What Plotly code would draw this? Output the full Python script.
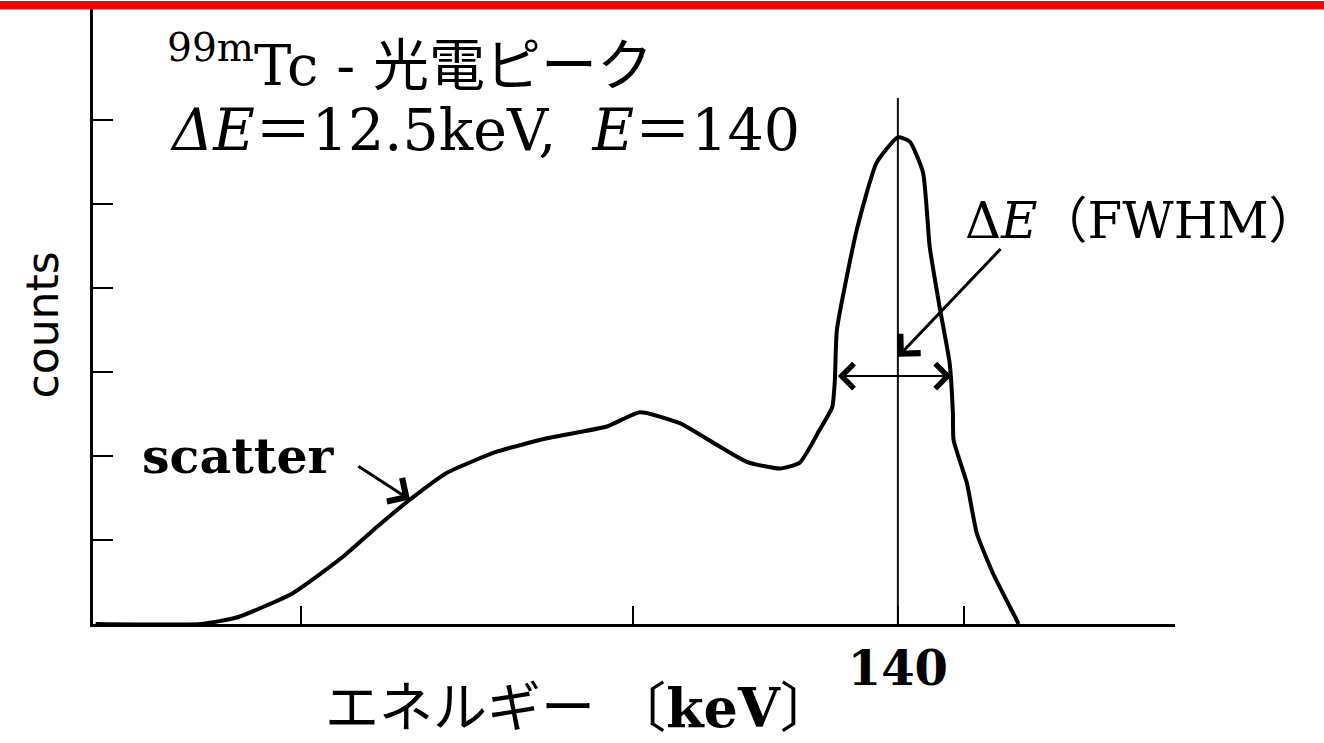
import plotly.graph_objects as go

# Energy spectrum of the 99mTc photopeak (energy in keV, counts in arbitrary units)
energy_kev = [19.0, 34.8, 40.4, 48.8, 56.3, 61.5, 66.4, 72.0, 79.5, 87.1, 96.1,
              101.1, 107.1, 112.1, 117.2, 122.2, 125.2, 128.2, 130.1, 130.5,
              130.8, 133.8, 136.8, 140.0, 141.8, 143.8, 144.8, 146.3, 147.8,
              148.3, 148.4, 150.4, 151.9, 154.3, 157.9, 158.2]
counts = [0.0, 0.0, 0.08, 0.37, 0.80, 1.16, 1.48, 1.80, 2.05, 2.21, 2.35,
          2.52, 2.39, 2.16, 1.93, 1.85, 1.92, 2.31, 2.58, 2.91,
          3.50, 4.69, 5.49, 5.79, 5.74, 5.37, 4.49, 3.77, 3.11,
          2.51, 2.19, 1.68, 1.08, 0.61, 0.05, 0.0]

x_ticks = [50, 100, 140, 150]
x_tick_text = ["", "", "<b>140</b>", ""]
y_ticks = [1, 2, 3, 4, 5, 6]

photopeak_kev = 140
fwhm_left, fwhm_right, half_max = 130.7, 148.1, 2.95

SERIF = "DejaVu Serif, Noto Sans CJK JP, serif"
SANS = "DejaVu Sans, Noto Sans, sans-serif"

fig = go.Figure()

# Photopeak marker line at 140 keV
fig.add_trace(go.Scatter(
    x=[photopeak_kev, photopeak_kev], y=[0, 6.26],
    mode="lines", line=dict(color="#111", width=2), hoverinfo="skip",
    showlegend=False,
))

# Measured spectrum
fig.add_trace(go.Scatter(
    x=energy_kev, y=counts, mode="lines",
    line=dict(color="#000", width=4, shape="spline", smoothing=0.5),
    showlegend=False,
))

annotations = [
    # FWHM double arrow
    dict(x=fwhm_right, y=half_max, ax=fwhm_left, ay=half_max,
         xref="x", yref="y", axref="x", ayref="y", text="",
         showarrow=True, arrowhead=4, startarrowhead=4, arrowside="end+start",
         arrowsize=2.4, startarrowsize=2.4, arrowwidth=2, arrowcolor="#000"),
    # pointer from the FWHM label
    dict(x=140.0, y=3.18, ax=155.7, ay=4.48,
         xref="x", yref="y", axref="x", ayref="y", text="",
         showarrow=True, arrowhead=4, arrowsize=1.8, arrowwidth=3,
         arrowcolor="#000"),
    # pointer from the scatter label
    dict(x=66.4, y=1.48, ax=58.4, ay=1.89,
         xref="x", yref="y", axref="x", ayref="y", text="",
         showarrow=True, arrowhead=4, arrowsize=1.8, arrowwidth=3,
         arrowcolor="#000"),
    dict(x=29.5, y=6.69, xref="x", yref="y", xanchor="left", yanchor="middle",
         text="<sup>99m</sup>Tc - 光電ピーク", showarrow=False,
         font=dict(family=SERIF, size=56, color="#000")),
    dict(x=29.9, y=5.88, xref="x", yref="y", xanchor="left", yanchor="middle",
         text="<i>ΔE</i>＝12.5keV,  <i>E</i>＝140", showarrow=False,
         font=dict(family=SERIF, size=57, color="#000")),
    dict(x=149.8, y=4.79, xref="x", yref="y", xanchor="left", yanchor="middle",
         text="Δ<i>E</i>（FWHM）", showarrow=False,
         font=dict(family=SERIF, size=50, color="#000")),
    dict(x=25.7, y=2.0, xref="x", yref="y", xanchor="left", yanchor="middle",
         text="<b>scatter</b>", showarrow=False,
         font=dict(family=SERIF, size=49, color="#000")),
    dict(x=-0.047, y=0.485, xref="paper", yref="paper",
         xanchor="center", yanchor="middle", textangle=-90,
         text="counts", showarrow=False,
         font=dict(family=SANS, size=44, color="#000")),
    dict(x=0.45, y=-0.136, xref="paper", yref="paper",
         xanchor="center", yanchor="middle",
         text="エネルギー 〔<b>keV</b>〕", showarrow=False,
         font=dict(family=SERIF, size=54, color="#000")),
]

fig.update_layout(
    width=1324, height=743,
    margin=dict(l=93, r=149, t=8, b=119),
    paper_bgcolor="white", plot_bgcolor="white",
    annotations=annotations,
    shapes=[dict(type="rect", xref="paper", yref="paper",
                 x0=-0.1, x1=1.2, y0=0.998, y1=1.0115,
                 line=dict(width=0), fillcolor="#ff0000", layer="above")],
    xaxis=dict(range=[18.6, 181.8], showgrid=False, zeroline=False,
               showline=True, linecolor="#000", linewidth=3,
               ticks="inside", ticklen=18, tickwidth=2, tickcolor="#000",
               tickvals=x_ticks, ticktext=x_tick_text,
               tickfont=dict(family=SERIF, size=48, color="#000"),
               fixedrange=True),
    yaxis=dict(range=[0, 7.33], showgrid=False, zeroline=False,
               showline=True, linecolor="#000", linewidth=3,
               ticks="inside", ticklen=20, tickwidth=2, tickcolor="#000",
               tickvals=y_ticks, showticklabels=False, fixedrange=True),
)

fig.write_html("out.html")
